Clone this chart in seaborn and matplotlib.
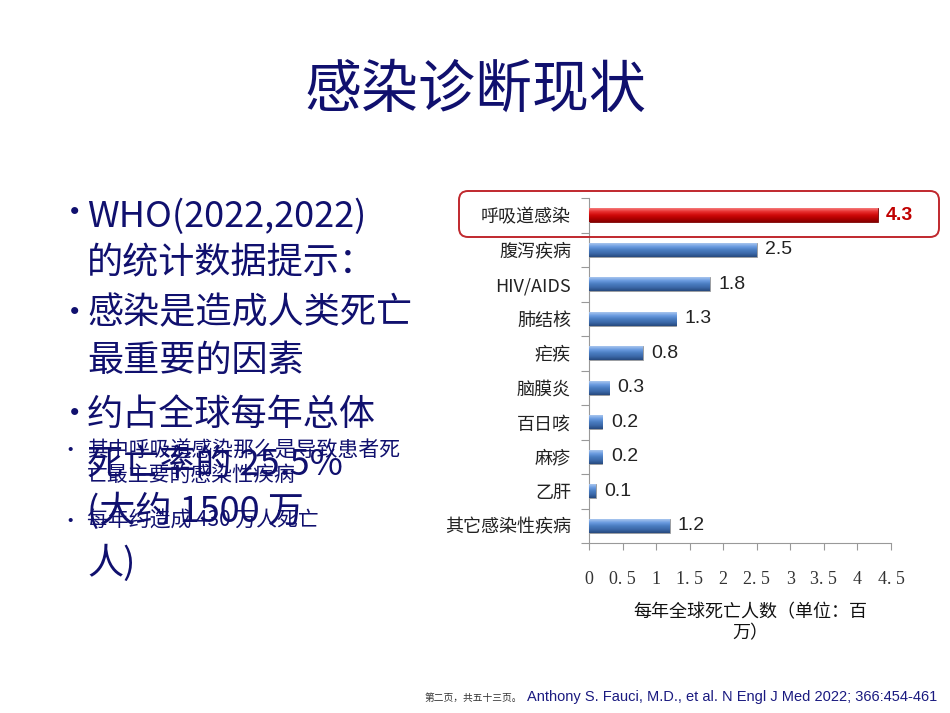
import numpy as np
import pandas as pd
import matplotlib
matplotlib.use('Agg')
import matplotlib.pyplot as plt
import seaborn as sns
from matplotlib.colors import LinearSegmentedColormap
from matplotlib.patches import FancyBboxPatch

# data
categories = ['呼吸道感染', '腹泻疾病', 'HIV/AIDS', '肺结核', '疟疾',
              '脑膜炎', '百日咳', '麻疹', '乙肝', '其它感染性疾病']
deaths = [4.3, 2.5, 1.8, 1.3, 0.8, 0.3, 0.2, 0.2, 0.1, 1.2]
value_labels = ['4.3', '2.5', '1.8', '1.3', '0.8', '0.3', '0.2', '0.2', '0.1', '1.2']
x_ticks = [0, 0.5, 1, 1.5, 2, 2.5, 3, 3.5, 4, 4.5]
x_tick_labels = ['0', '0. 5', '1', '1. 5', '2', '2. 5', '3', '3. 5', '4', '4. 5']

title = '感染诊断现状'
x_label = '每年全球死亡人数（单位：百\n万）'
big_lines = ['WHO(2022,2022)', '的统计数据提示：', '感染是造成人类死亡', '最重要的因素',
             '约占全球每年总体', '死亡率的 25.5%', '(大约 1500 万', '人)']
small_lines = ['其中呼吸道感染那么是导致患者死', '亡最主要的感染性疾病', '每年约造成 430 万人死亡']

navy = '#10106e'
sns.set_theme(style='white')
plt.rcParams['font.family'] = ['Noto Sans CJK SC', 'DejaVu Sans']

df = pd.DataFrame({'cat': categories, 'val': deaths})
colors = ['#d41010'] + ['#4a7cc0'] * (len(categories) - 1)

fig = plt.figure(figsize=(9.5, 7.13), dpi=100)
ax = fig.add_axes([589 / 950, 1 - 543 / 713, 302 / 950, 345 / 713])

sns.barplot(data=df, x='val', y='cat', hue='cat', palette=colors, legend=False,
            width=0.4, orient='h', ax=ax, zorder=2)

# gradient fill on each bar
blue_cmap = LinearSegmentedColormap.from_list('b', ['#a8c6ee', '#6a9be0', '#4a7cc0', '#3b68a8', '#27497e'])
red_cmap = LinearSegmentedColormap.from_list('r', ['#f57a7a', '#e83030', '#d00a0a', '#b00000', '#850000'])
grad = np.linspace(0, 1, 64).reshape(-1, 1)
for patch in list(ax.patches):
    x0, y0 = patch.get_x(), patch.get_y()
    w, h = patch.get_width(), patch.get_height()
    idx = int(round(y0 + h / 2))
    cmap = red_cmap if idx == 0 else blue_cmap
    im = ax.imshow(grad, extent=[x0, x0 + w, y0 + h, y0], origin='upper',
                   aspect='auto', cmap=cmap, zorder=3)
    im.set_clip_path(patch)
    patch.set_edgecolor('#9a9a9a' if idx else '#7a0000')
    patch.set_linewidth(0.6)

ax.set_xlim(0, 4.5)
ax.set_ylim(len(categories) - 0.5, -0.5)

for i, (v, lab) in enumerate(zip(deaths, value_labels)):
    if i == 0:
        ax.annotate(lab, (v, i), xytext=(6, 0), textcoords='offset points',
                    va='center', ha='left', fontsize=14, color='#c00000',
                    fontweight='bold', family=['Liberation Sans', 'DejaVu Sans'],
                    annotation_clip=False)
    else:
        ax.annotate(lab, (v, i), xytext=(6, 0), textcoords='offset points',
                    va='center', ha='left', fontsize=14, color='#222222',
                    family=['Liberation Sans', 'DejaVu Sans'], annotation_clip=False)

ax.set_xlabel('')
ax.set_ylabel('')
ax.set_xticks(x_ticks)
ax.set_xticklabels(x_tick_labels, family=['Liberation Serif', 'DejaVu Serif'],
                   fontsize=13, color='#333333')
ax.set_yticks(range(len(categories)))
ax.set_yticklabels(categories, fontsize=13, color='#222222')
ax.set_yticks(np.arange(-0.5, len(categories)), minor=True)
ax.tick_params(axis='y', which='major', length=0, pad=13)
ax.tick_params(axis='y', which='minor', length=6, width=0.8, color='#999999', direction='out', left=True)
ax.tick_params(axis='x', which='major', length=5, width=0.8, color='#999999', direction='out',
               bottom=True, pad=15)
for s in ['top', 'right']:
    ax.spines[s].set_visible(False)
for s in ['left', 'bottom']:
    ax.spines[s].set_color('#999999')
    ax.spines[s].set_linewidth(0.8)

fig.text(750 / 950, 1 - 623 / 713, x_label, ha='center', va='center', fontsize=13,
         color='#111111', linespacing=1.2)

# highlight box around first row
box = FancyBboxPatch((4.59, 7.13 - 2.37), 4.80, 0.46,
                     boxstyle='round,pad=0,rounding_size=0.09',
                     transform=fig.dpi_scale_trans, fill=False,
                     edgecolor='#c0282d', linewidth=1.4)
fig.patches.append(box)

# title
fig.text(475 / 950, 1 - 91 / 713, title, ha='center', va='center', fontsize=41, color=navy)

# left bullet text
big_y = [217, 263, 313, 361, 415, 465, 511, 563]
for txt, yy in zip(big_lines, big_y):
    fig.text(87 / 950, 1 - yy / 713, txt, ha='left', va='center', fontsize=26, color=navy)
for yy in [213, 313, 415]:
    fig.text(58 / 950, 1 - yy / 713, '•', ha='left', va='center', fontsize=24, color=navy)

small_y = [451, 475, 521]
for txt, yy in zip(small_lines, small_y):
    fig.text(87 / 950, 1 - yy / 713, txt, ha='left', va='center', fontsize=15, color=navy)
for yy in [451, 521]:
    fig.text(60 / 950, 1 - yy / 713, '•', ha='left', va='center', fontsize=14, color=navy)

# footer
fig.text(425 / 950, 1 - 698 / 713, '第二页，共五十三页。', ha='left', va='center',
         fontsize=7, color='#333333')
fig.text(527 / 950, 1 - 697 / 713, 'Anthony S. Fauci, M.D., et al. N Engl J Med 2022; 366:454-461',
         ha='left', va='center', fontsize=10.5, color='#1a1a80',
         family=['Liberation Sans', 'DejaVu Sans'])

fig.savefig('out.png', dpi=100)
